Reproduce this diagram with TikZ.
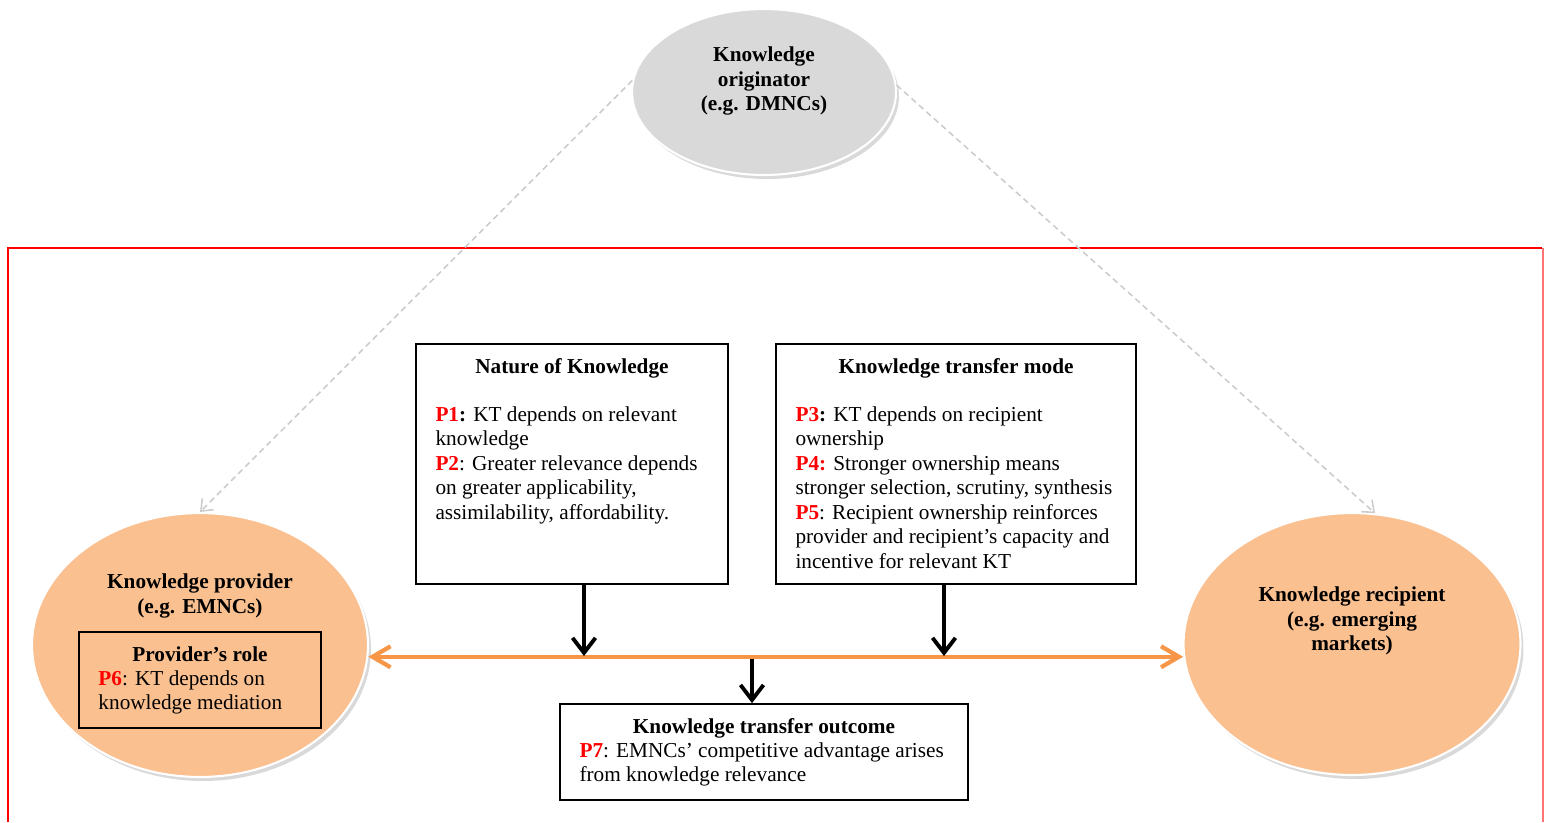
\documentclass[tikz,border=0pt]{standalone}
\usepackage{fontspec}
\setmainfont{Liberation Serif}
\usepackage{xcolor}
\usetikzlibrary{arrows.meta,positioning,shapes,shadows}
\definecolor{provfill}{HTML}{FAC090}
\definecolor{linkorange}{HTML}{F79646}
\definecolor{origfill}{HTML}{D9D9D9}
\definecolor{dashgray}{HTML}{CCCCCC}
\definecolor{propred}{HTML}{FF0000}
\newcommand{\prop}[1]{\textcolor{propred}{\textbf{#1}}}

\begin{document}
\begin{tikzpicture}[x=0.02cm,y=-0.02cm]
				\tikzstyle{every node}=[font=\fontsize{12.1}{13.95}\selectfont]
				\tikzstyle{kbox}=[draw,line width=1pt,inner sep=0pt]
				\tikzstyle{ktitle}=[inner sep=0pt,font=\fontsize{12.1}{13.95}\selectfont\bfseries]
				\tikzstyle{ktext}=[inner sep=0pt,align=left]
				\tikzstyle{actor}=[ellipse,draw=white,line width=1.2pt,fill=provfill,inner sep=0pt,drop shadow={opacity=0.3,shadow xshift=0.06cm,shadow yshift=-0.08cm}]
				\tikzstyle{actortext}=[ktitle,align=center]
				\tikzstyle{barb}=[draw,-{Straight Barb[length=3mm,width=4.6mm]},line width=2.2pt]
				\tikzstyle{obarb}=[draw,linkorange,{Straight Barb[length=3.6mm,width=4.2mm]}-{Straight Barb[length=3.6mm,width=4.2mm]},line width=2.4pt]
				\tikzstyle{dbarb}=[draw,dashgray,dash pattern=on 3.4pt off 2.3pt,-{Straight Barb[length=2mm,width=3.2mm]},line width=0.9pt]
				\tikzstyle{redframe}=[draw,red,line width=1.5pt]

				\useasboundingbox (0,0) rectangle (1544,822);

				%% Draw frame
				\draw [redframe] (8,822) -- (8,248) -- (1542,248);
				\draw [redframe,red!55,line width=0.6pt] (1543,248) -- (1543,822);

				%% Draw actors
				\node [actor,fill=origfill,minimum width=5.28cm,minimum height=3.32cm] (orig) at (764,92) {};
				\node [actortext] (origtxt) at (764,81) {Knowledge\\originator\\(e.g. DMNCs)};
				\node [actor,minimum width=6.72cm,minimum height=5.28cm] (prov) at (200,645) {};
				\node [actortext] (provtxt) at (200,596) {Knowledge provider\\(e.g. EMNCs)};
				\node [actor,minimum width=6.74cm,minimum height=5.24cm] (recip) at (1352,644) {};
				\node [actortext] (reciptxt) at (1352,621) {Knowledge recipient\\(e.g. emerging\\markets)};

				\draw [dbarb] (orig.175) -- (prov.north);
				\draw [dbarb] (orig.3) -- (recip.80);

				%% Draw boxes
				\node [kbox,minimum width=4.84cm,minimum height=1.92cm] (role) at (200,680) {};
				\node [ktitle,below=0.3cm of role.north] (roletitle) {Provider’s role};
				\node [ktext,below right=0.78cm and 0.4cm of role.north west] (roletxt) {\prop{P6}: KT depends on\\knowledge mediation};

				\node [kbox,minimum width=6.24cm,minimum height=4.8cm] (nature) at (572,464) {};
				\node [ktitle,below=0.3cm of nature.north] (naturetitle) {Nature of Knowledge};
				\node [ktext,below right=1.26cm and 0.4cm of nature.north west] (naturetxt) {\prop{P1}\textbf{:} KT depends on relevant\\knowledge\\\prop{P2}: Greater relevance depends\\on greater applicability,\\assimilability, affordability.};

				\node [kbox,minimum width=7.2cm,minimum height=4.8cm] (mode) at (956,464) {};
				\node [ktitle,below=0.3cm of mode.north] (modetitle) {Knowledge transfer mode};
				\node [ktext,below right=1.26cm and 0.4cm of mode.north west] (modetxt) {\prop{P3}\textbf{:} KT depends on recipient\\ownership\\\prop{P4:} Stronger ownership means\\stronger selection, scrutiny, synthesis\\\prop{P5}: Recipient ownership reinforces\\provider and recipient’s capacity and\\incentive for relevant KT};

				\node [kbox,minimum width=8.16cm,minimum height=1.92cm] (outcome) at (764,752) {};
				\node [ktitle,below=0.3cm of outcome.north] (outcometitle) {Knowledge transfer outcome};
				\node [ktext,below right=0.78cm and 0.4cm of outcome.north west] (outcometxt) {\prop{P7}: EMNCs’ competitive advantage arises\\from knowledge relevance};

				%% Draw links
				\coordinate (hub) at (752,656);
				\coordinate (natfoot) at ([xshift=0.24cm]nature.south);
				\coordinate (modefoot) at ([xshift=-0.24cm]mode.south);
				\draw [obarb] (prov.-4) -- (prov.-4 -| recip.-176);
				\draw [barb] (natfoot) -- (natfoot |- hub);
				\draw [barb] (modefoot) -- (modefoot |- hub);
				\draw [barb] ([yshift=-0.05cm]hub) -- (hub |- outcome.north);
\end{tikzpicture}
\end{document}
